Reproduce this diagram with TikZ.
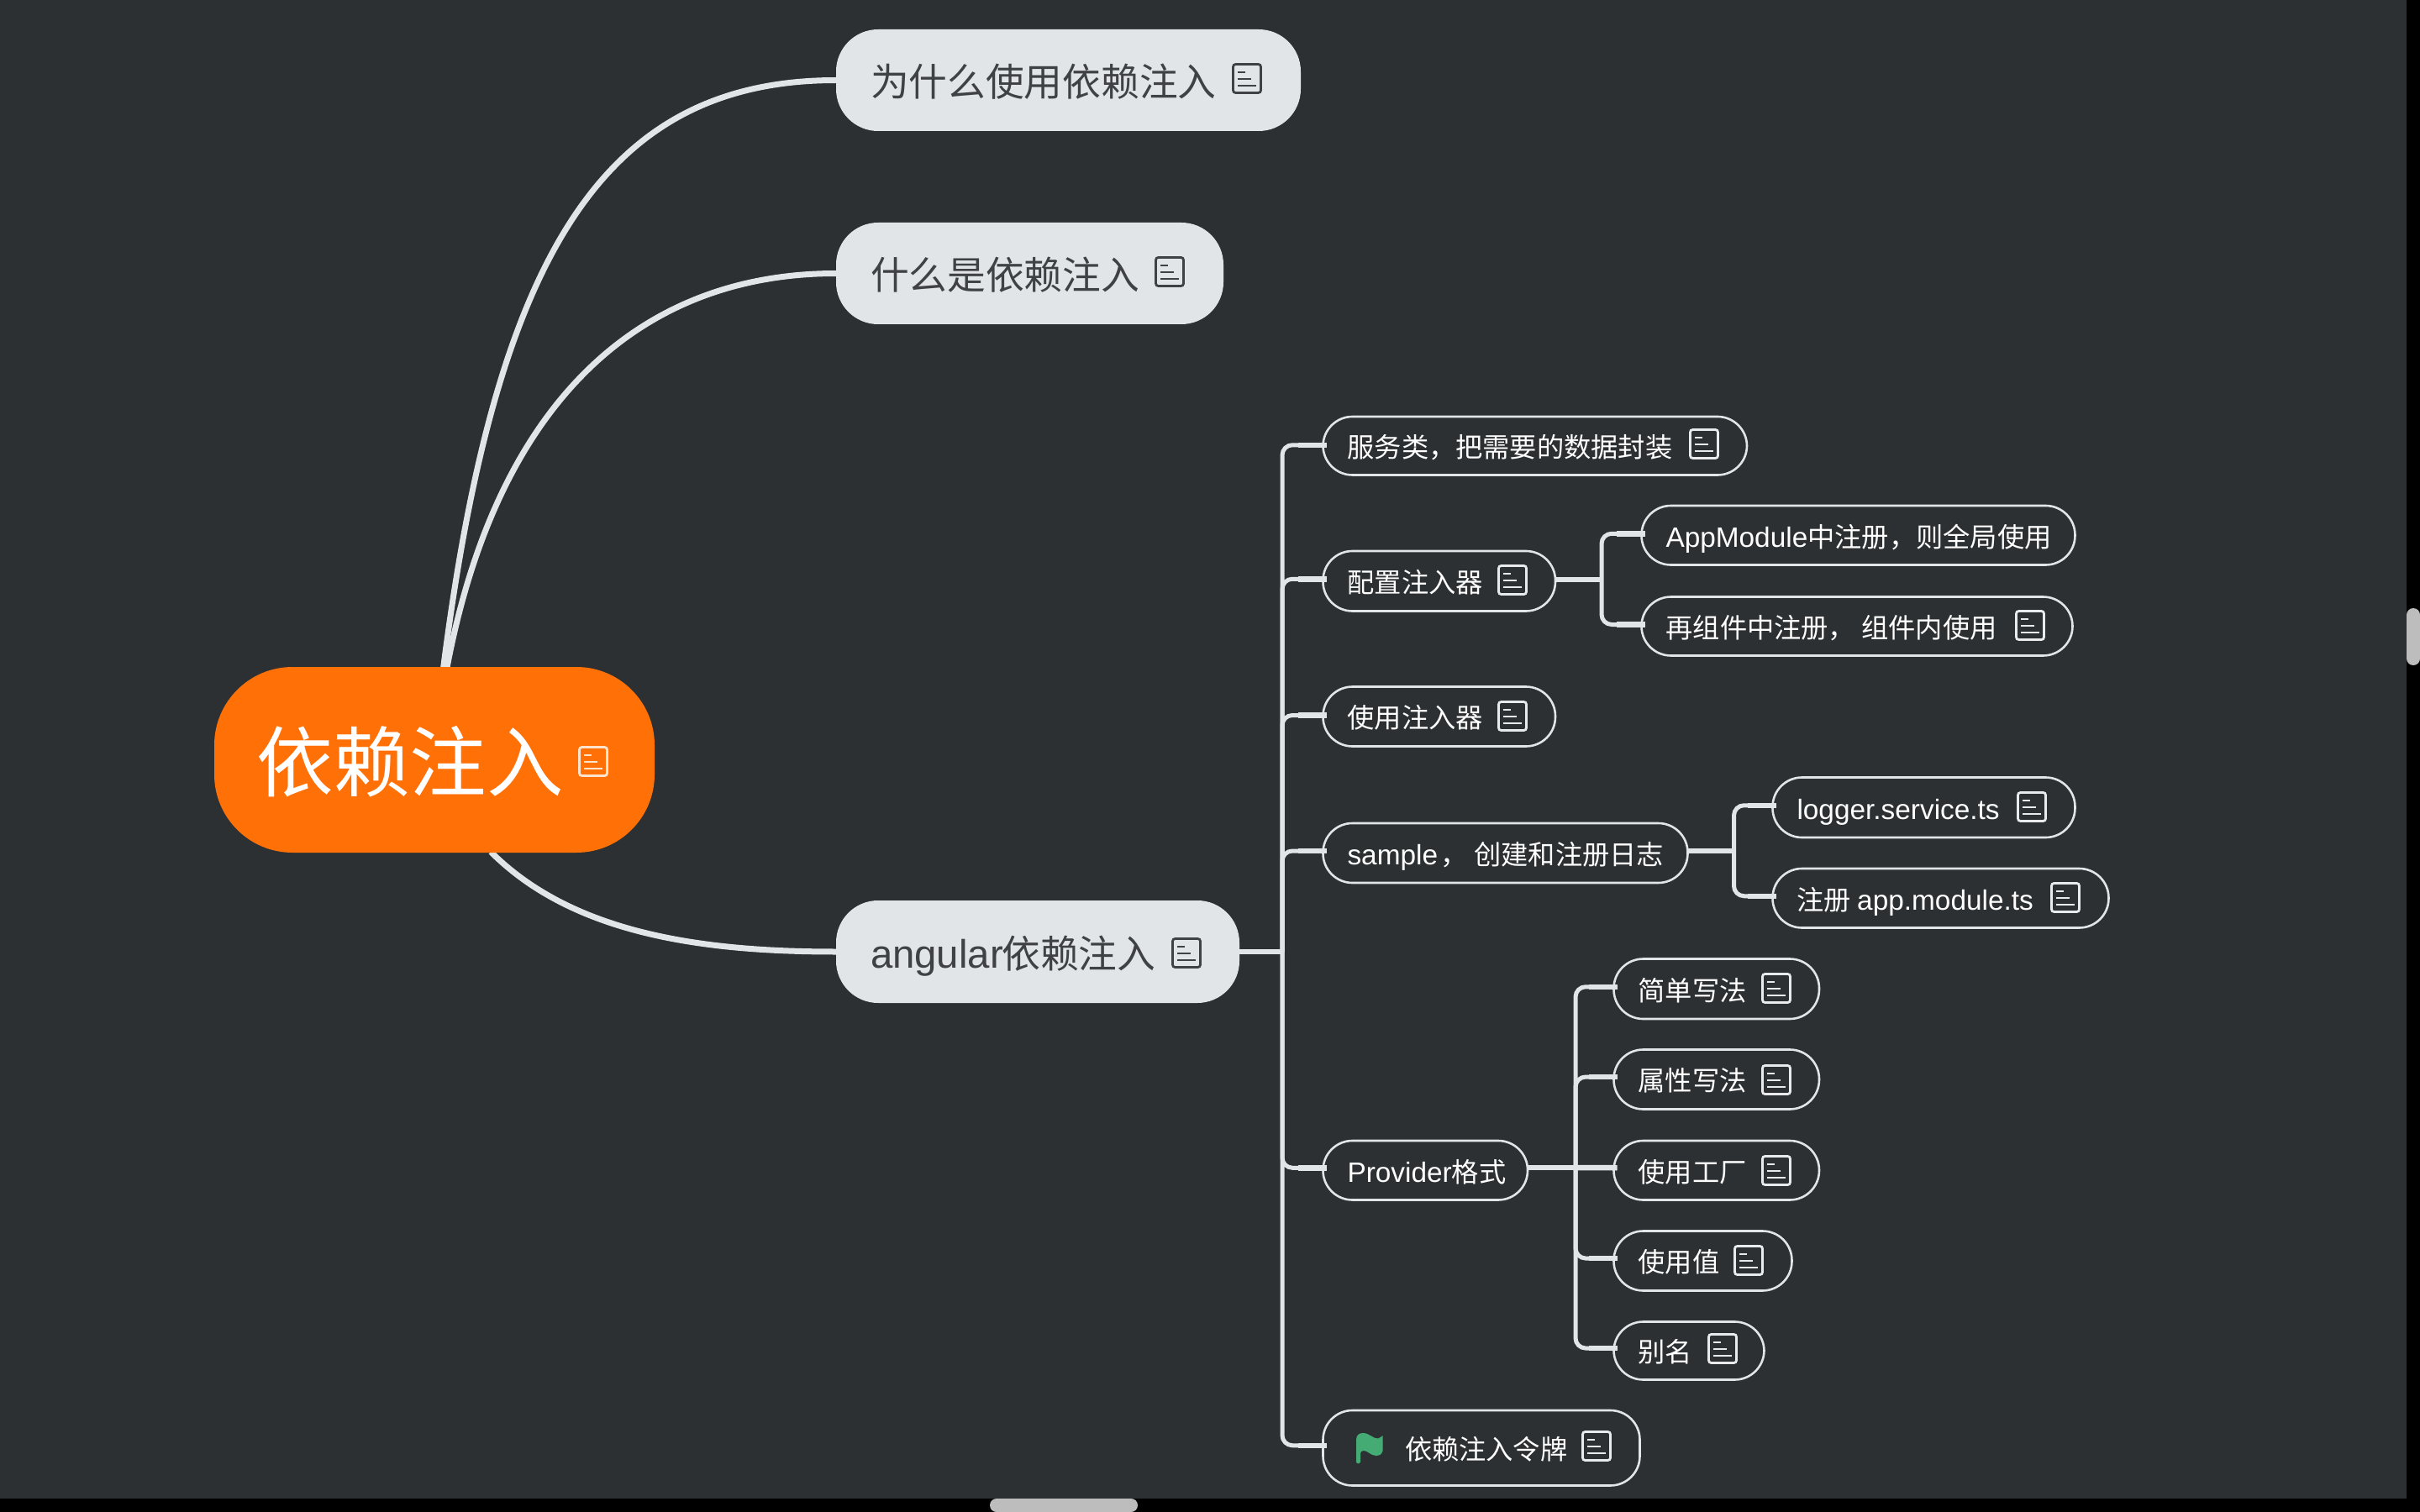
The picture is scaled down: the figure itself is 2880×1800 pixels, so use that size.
\documentclass[tikz,border=0pt]{standalone}
\usepackage{fontspec}
\setmainfont{Noto Sans CJK SC}
\newfontfamily\lat[Scale=1.035]{Liberation Sans}
\definecolor{bgc}{HTML}{2C3033}
\definecolor{linec}{HTML}{E1E5E8}
\definecolor{orangec}{HTML}{FF7006}
\definecolor{darktxt}{HTML}{3F4144}
\definecolor{flagc}{HTML}{45AB74}
\definecolor{scrollc}{HTML}{BDBDBD}
\definecolor{rooticon}{HTML}{FFE3CC}
\definecolor{subicon}{HTML}{E8EAEC}
\newlength\pxu \setlength\pxu{0.01cm}
\pgfdeclarelayer{back}
\pgfsetlayers{back,main}
\def\mmdrop{0}
\tikzset{
  every node/.style={inner sep=0pt,outer sep=0pt},
  rootbox/.style={rectangle,fill=orangec,rounded corners=0.93cm,text=white,font=\fontsize{26}{30}\selectfont\def\mmdrop{2.5}},
  topicbox/.style={rectangle,fill=linec,rounded corners=0.5cm,text=darktxt,font=\fontsize{13}{16}\selectfont\def\mmdrop{2}},
  subbox/.style={rectangle,draw=linec,line width=2.6\pxu,fill=bgc,rounded corners=0.35cm,text=white,font=\fontsize{9.17}{12}\selectfont\def\mmdrop{1.5}},
  maincurve/.style={draw=linec,line width=7\pxu},
  spine/.style={draw=linec,line width=5\pxu,rounded corners=0.12cm},
  stubline/.style={draw=linec,line width=6.5\pxu},
  iconline/.style={line width=2.8\pxu,rounded corners=0.03cm},
  iconbar/.style={line width=2.8\pxu},
}
% name, style, x1, y1, x2, y2, left padding, text
\newcommand{\mm}[8]{%
  \pgfmathsetmacro{\mmw}{(#5)-(#3)}%
  \pgfmathsetmacro{\mmh}{(#6)-(#4)}%
  \pgfmathsetmacro{\mmx}{((#5)+(#3))/2}%
  \pgfmathsetmacro{\mmy}{((#6)+(#4))/2}%
  \node[#2,minimum height=\mmh\pxu] (#1) at (\mmx,\mmy)
    {\hbox to \mmw\pxu{\hspace{#7\pxu}\rule[-0.12em]{0pt}{1em}\raisebox{-\mmdrop\pxu}{\smash{#8}}\hss}};%
}
\newcommand{\mmsub}[6]{\mm{#1}{subbox}{#2+1.5}{#3+1.5}{#4-1.5}{#5-1.5}{29}{#6}}
% note icon: x1, y1, colour
\newcommand{\note}[3]{%
  \draw[iconline,draw=#3] (#1+1.5,#2+1.5) rectangle (#1+34.5,#2+35.5);
  \draw[iconbar,draw=#3] (#1+7,#2+11) -- ++(9,0) (#1+7,#2+19) -- ++(16,0) (#1+7,#2+27) -- ++(22,0);
}
% branch from a hub to the west side of a node
\newcommand{\branch}[3]{%
  \draw[spine] (#1) |- ([xshift=4\pxu,yshift=#3\pxu]#2.west);
  \draw[stubline] ([xshift=4\pxu,yshift=#3\pxu]#2.west) -- ++(-34,0);
}
\begin{document}
\begin{tikzpicture}[x=0.01cm,y=-0.01cm]
\useasboundingbox (0,0) rectangle (2880,1800);
\begin{pgfonlayer}{back}
  \fill[black] (0,0) rectangle (2880,1800);
  \fill[bgc] (0,0) rectangle (2864,1784);
\end{pgfonlayer}
% scroll bars
\fill[scrollc,rounded corners=0.08cm] (2864,724) rectangle (2880,792);
\fill[scrollc,rounded corners=0.08cm] (1178,1784) rectangle (1354,1800);

% root and topics
\mm{root}{rootbox}{255}{794}{779}{1015}{50}{依赖注入}
\mm{t1}{topicbox}{995}{35}{1548}{156}{41}{为什么使用依赖注入}
\mm{t2}{topicbox}{995}{265}{1456}{386}{41}{什么是依赖注入}
\mm{t3}{topicbox}{995}{1072}{1475}{1194}{41}{{\lat angular}\kern-1.5\pxu 依赖注入}

% children
\mmsub{c1}{1573}{494.5}{2080.5}{567}{服务类，把需要的数据封装}
\mmsub{c2}{1573}{654.5}{1852.5}{729}{配置注入器}
\mmsub{c2a}{1952}{600.5}{2471}{674}{{\lat AppModule}中注册，则全局使用}
\mmsub{c2b}{1952}{709}{2468}{782}{再组件中注册， 组件内使用}
\mmsub{c3}{1573}{816}{1852.5}{890}{使用注入器}
\mmsub{c4}{1573}{978.5}{2010}{1052.5}{{\lat sample} \kern-3.5\pxu， 创建和注册日志}
\mmsub{c4a}{2108}{924}{2471}{998.5}{{\lat logger.service.ts}}
\mmsub{c4b}{2108}{1032.5}{2511}{1106}{注册 {\lat app.module.ts}}
\mmsub{c5}{1573}{1356.5}{1819.5}{1430}{{\lat Provider}格式}
\mmsub{c5a}{1919}{1140}{2166.5}{1214.5}{简单写法}
\mmsub{c5b}{1919}{1248}{2166.5}{1322}{属性写法}
\mmsub{c5c}{1919}{1356.5}{2166.5}{1430}{使用工厂}
\mmsub{c5d}{1919}{1464}{2134}{1538}{使用值}
\mmsub{c5e}{1919}{1572}{2101}{1644}{别名}
\mm{c6}{subbox}{1574.5}{1679}{1951.5}{1768.5}{97.5}{依赖注入令牌}

% curved connectors from the root (behind it)
\coordinate (r1) at (527,800);
\coordinate (r2) at (531,800);
\coordinate (r3) at (584,1014);
\begin{pgfonlayer}{back}
  \draw[maincurve] (r1) .. controls (590,300) and (720,95.5) .. (t1.west);
  \draw[maincurve] (r2) .. controls (590,480) and (760,325.5) .. (t2.west);
  \draw[maincurve] (r3) .. controls (680,1110) and (830,1133) .. (t3.west);
\end{pgfonlayer}

% tree connectors
\coordinate (hub0) at (1526,1133);
\coordinate (hub2) at (1906,690);
\coordinate (hub4) at (2063.5,1013);
\coordinate (hub5) at (1875,1390);
\draw[stubline] (t3.east) -- (hub0);
\branch{hub0}{c1}{1}
\branch{hub0}{c2}{2.5}
\branch{hub0}{c3}{1.5}
\branch{hub0}{c4}{2.5}
\branch{hub0}{c5}{3}
\branch{hub0}{c6}{3}
\draw[stubline] (c2.east |- hub2) -- (hub2);
\branch{hub2}{c2a}{2}
\branch{hub2}{c2b}{2}
\draw[stubline] (c4.east |- hub4) -- (hub4);
\branch{hub4}{c4a}{2.5}
\branch{hub4}{c4b}{2.5}
\draw[stubline] (c5.east |- hub5) -- (hub5);
\branch{hub5}{c5a}{2.5}
\branch{hub5}{c5b}{3}
\draw[stubline] (hub5) -- ([xshift=4\pxu,yshift=3\pxu]c5c.west);
\branch{hub5}{c5d}{3}
\branch{hub5}{c5e}{3}

% note icons
\note{688}{888}{rooticon}
\note{1466}{75}{darktxt}
\note{1374}{305}{darktxt}
\note{1394}{1116}{darktxt}
\note{2010}{510}{subicon}
\note{1782}{672}{subicon}
\note{2398}{726}{subicon}
\note{1782}{834}{subicon}
\note{2400}{942}{subicon}
\note{2440}{1050}{subicon}
\note{2096}{1158}{subicon}
\note{2096}{1267}{subicon}
\note{2096}{1375}{subicon}
\note{2063}{1482}{subicon}
\note{2032}{1587}{subicon}
\note{1882}{1703}{subicon}

% flag
\fill[flagc] (1614,1714) .. controls (1614,1708) and (1618,1706) .. (1622,1706)
  .. controls (1630,1706) and (1634,1713) .. (1640,1712.5)
  .. controls (1643,1712.5) and (1644,1709) .. (1645.7,1709)
  -- (1645.7,1727) .. controls (1644,1732) and (1641,1733.5) .. (1638,1733)
  .. controls (1631,1733) and (1628,1727) .. (1623,1727)
  .. controls (1621,1727) and (1619,1728) .. (1619,1730)
  -- (1619,1740) .. controls (1619,1743) and (1614,1743) .. (1614,1740) -- cycle;
\end{tikzpicture}
\end{document}
